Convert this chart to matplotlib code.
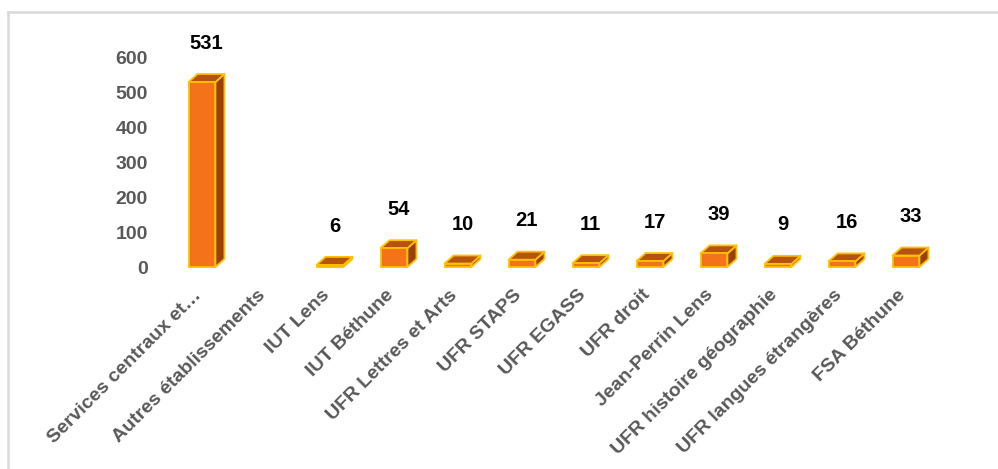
import numpy as np
import matplotlib.pyplot as plt
import matplotlib.transforms as mtransforms
from matplotlib.patches import Polygon
from matplotlib.lines import Line2D

categories = ["Services centraux et…", "Autres établissements", "IUT Lens",
              "IUT Béthune", "UFR Lettres et Arts", "UFR STAPS", "UFR EGASS",
              "UFR droit", "Jean-Perrin Lens", "UFR histoire géographie",
              "UFR langues étrangères", "FSA Béthune"]
values = [531, np.nan, 6, 54, 10, 21, 11, 17, 39, 9, 16, 33]
yticks = [0, 100, 200, 300, 400, 500, 600]

plt.rcParams['font.family'] = ['Liberation Sans', 'DejaVu Sans']

front_col = '#F57318'
top_col = '#B5530F'
side_col = '#9A400C'
edge_col = '#FFC000'
grey = '#595959'

fig = plt.figure(figsize=(9.98, 4.69), dpi=100)
ax = fig.add_axes([170 / 998, 202 / 469, 768 / 998, 209 / 469])
ax.set_xlim(-0.5, len(categories) - 0.5)
ax.set_ylim(0, 600)

w = 0.42
dx = 9 / 64
dy = 8 * 600 / 209

x = np.arange(len(categories))
for i, v in zip(x, values):
    if np.isnan(v):
        continue
    l, r = i - w / 2, i + w / 2
    side = Polygon([(r, 0), (r + dx, dy), (r + dx, v + dy), (r, v)],
                   facecolor=side_col, edgecolor=edge_col, lw=1.3,
                   joinstyle='round', clip_on=False, zorder=2)
    top = Polygon([(l, v), (l + dx, v + dy), (r + dx, v + dy), (r, v)],
                  facecolor=top_col, edgecolor=edge_col, lw=1.3,
                  joinstyle='round', clip_on=False, zorder=2)
    ax.add_patch(side)
    ax.add_patch(top)
    ax.bar(i, v, width=w, color=front_col, edgecolor=edge_col, lw=1.3,
           zorder=3, clip_on=False)
    ax.annotate(f"{int(v)}", (i + dx / 2, v), xytext=(0, 28),
                textcoords='offset points', ha='center', va='center',
                fontsize=14.5, fontweight='bold', color='black',
                annotation_clip=False)

for s in ax.spines.values():
    s.set_visible(False)

ax.set_yticks(yticks)
ax.set_yticklabels([str(t) for t in yticks])
ax.tick_params(axis='y', length=0, pad=16, labelsize=14, labelcolor=grey)
for t in ax.get_yticklabels():
    t.set_fontweight('bold')

ax.set_xticks(x)
ax.set_xticklabels(categories, rotation=45, ha='right',
                   rotation_mode='anchor', fontsize=14, fontweight='bold',
                   color=grey)
ax.tick_params(axis='x', length=0, pad=14)

offset = mtransforms.ScaledTranslation(-9 / 100, 0, fig.dpi_scale_trans)
for t in ax.get_xticklabels():
    t.set_transform(t.get_transform() + offset)

# outer frame (left and top only)
fig.add_artist(Line2D([8 / 998, 8 / 998], [0, 1 - 12 / 469],
                      color='#D9D9D9', lw=1.8, transform=fig.transFigure))
fig.add_artist(Line2D([8 / 998, 1], [1 - 12 / 469, 1 - 12 / 469],
                      color='#D9D9D9', lw=1.8, transform=fig.transFigure))

fig.savefig('out.png', dpi=100)
